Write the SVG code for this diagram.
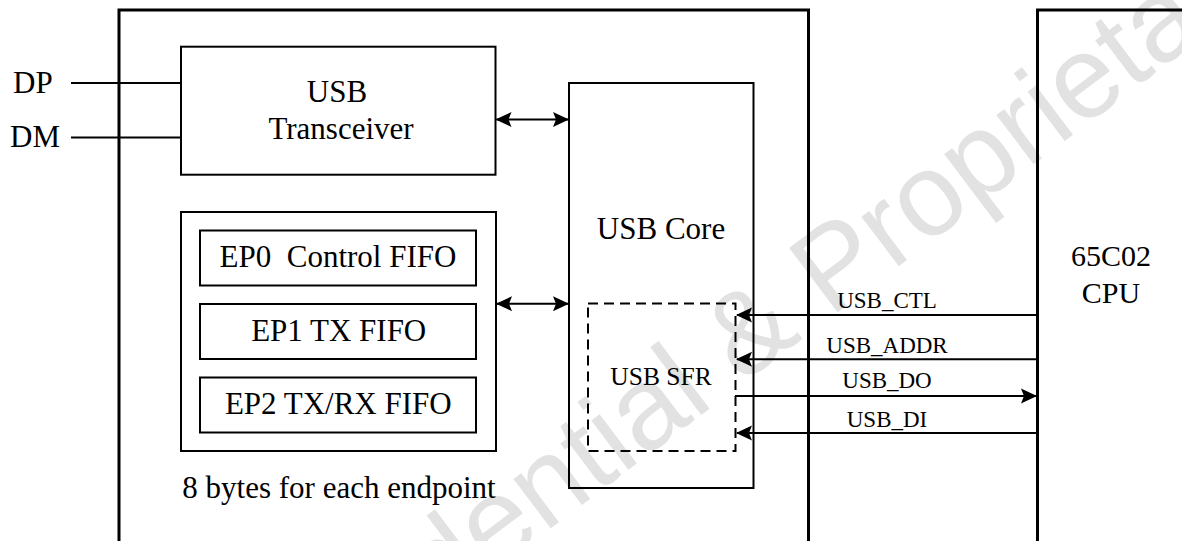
<svg xmlns="http://www.w3.org/2000/svg" width="1182" height="541" viewBox="0 0 1182 541">
  <defs>
    <marker id="ah" viewBox="0 0 16 16" markerUnits="userSpaceOnUse" markerWidth="16" markerHeight="16" refX="15" refY="8" orient="auto-start-reverse">
      <path d="M0,0.5 L16,8 L0,15.5 L3,8 Z" fill="#000"/>
    </marker>
  </defs>

  <rect width="1182" height="541" fill="#fff"/>

  <!-- background watermark, drawn along one rotated baseline -->
  <g transform="translate(771 346) rotate(-37)" font-family="Liberation Sans" font-size="117" fill="#e2e2e2">
    <text x="-697" y="13">Confidential &amp; Proprietary</text>
  </g>

  <!-- heavy outlines: the USB block and the CPU -->
  <g fill="none" stroke="#000" stroke-width="3">
    <path id="usb-block" d="M119,545 V10 H808.5 V545"/>
    <path id="cpu-outline" d="M1037.5,545 V10 H1186"/>
  </g>

  <!-- inner boxes, all drawn with the same thin stroke -->
  <g fill="none" stroke="#000" stroke-width="2">
    <rect id="transceiver-box" x="181" y="46.7" width="314.5" height="128"/>
    <rect id="fifo-box" x="181" y="212" width="315" height="239"/>
    <rect id="ep0-box" x="200" y="230.5" width="276" height="55"/>
    <rect id="ep1-box" x="200" y="304" width="276" height="55"/>
    <rect id="ep2-box" x="200" y="377.5" width="276" height="55"/>
    <rect id="core-box" x="569" y="83" width="184.5" height="405"/>
    <rect id="sfr-box" x="588" y="303.5" width="147.5" height="147.5" stroke-dasharray="10 6"/>
  </g>

  <!-- labels, 31px serif unless noted -->
  <g font-family="Liberation Serif" font-size="31" fill="#000" text-anchor="middle">
    <g id="cpu" font-size="30">
      <text x="1111" y="266">65C02</text>
      <text x="1111" y="303">CPU</text>
    </g>
    <g id="pins" text-anchor="start">
      <text x="13" y="93">DP</text>
      <text x="10" y="147">DM</text>
    </g>
    <g id="transceiver">
      <text x="337" y="101.5">USB</text>
      <text x="341" y="138.5">Transceiver</text>
    </g>
    <g id="fifo">
      <text x="338" y="267" xml:space="preserve">EP0  Control FIFO</text>
      <text x="338.7" y="341">EP1 TX FIFO</text>
      <text x="338.3" y="414">EP2 TX/RX FIFO</text>
      <text x="339" y="498">8 bytes for each endpoint</text>
    </g>
    <g id="usb-core">
      <text x="661" y="239">USB Core</text>
    </g>
    <g id="usb-sfr">
      <text x="661" y="385" font-size="25.5">USB SFR</text>
    </g>
  </g>

  <g id="connectors" fill="none" stroke="#000" stroke-width="2">
    <path d="M71,83 H181"/>
    <path d="M71,137.5 H181"/>
    <path d="M496.5,119.5 H568" marker-start="url(#ah)" marker-end="url(#ah)"/>
    <path d="M497,303.7 H568" marker-start="url(#ah)" marker-end="url(#ah)"/>
    <path d="M1037,315 H737" marker-end="url(#ah)"/>
    <path d="M1037,359.3 H737" marker-end="url(#ah)"/>
    <path d="M735,396 H1036" marker-end="url(#ah)"/>
    <path d="M1037,433 H737" marker-end="url(#ah)"/>
  </g>
  <g id="signal-labels" font-family="Liberation Serif" font-size="23" fill="#000" text-anchor="middle">
    <text x="887" y="308">USB_CTL</text>
    <text x="887" y="352.7">USB_ADDR</text>
    <text x="887" y="388">USB_DO</text>
    <text x="887" y="426.7">USB_DI</text>
  </g>
</svg>
